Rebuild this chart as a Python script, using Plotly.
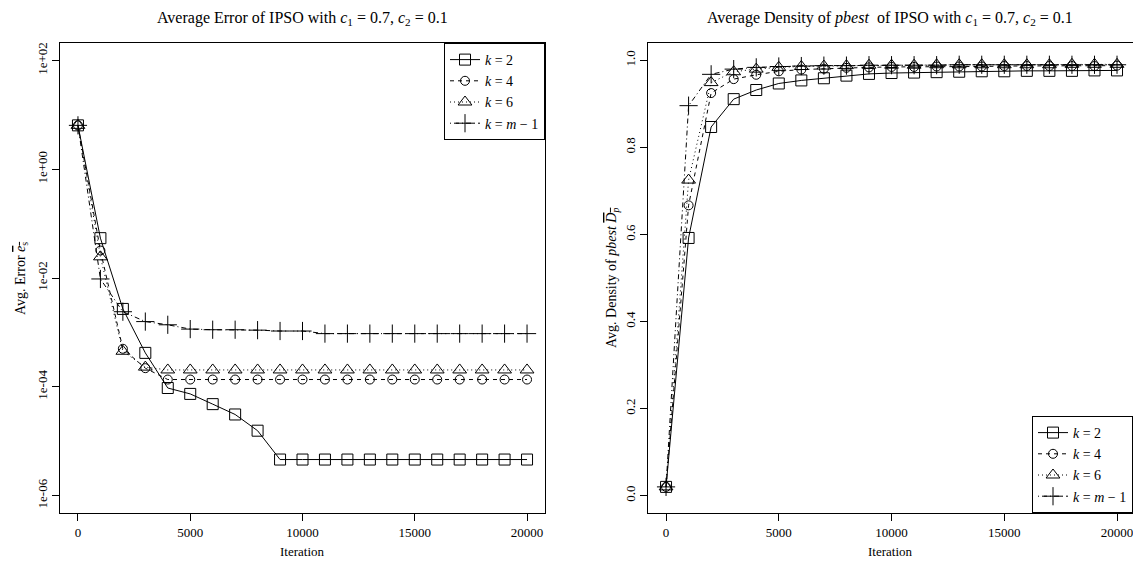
import plotly.graph_objects as go

iterations = [0, 1000, 2000, 3000, 4000, 5000, 6000, 7000, 8000, 9000, 10000,
              11000, 12000, 13000, 14000, 15000, 16000, 17000, 18000, 19000, 20000]
x_ticks = [0, 5000, 10000, 15000, 20000]
x_ticktext = ["0", "5000", "10000", "15000", "20000"]

# Average error (log scale)
err_k2 = [6.4, 0.054, 0.0027, 4.2e-4, 9.5e-5, 7.4e-5, 4.8e-5, 3.1e-5, 1.56e-5, 4.6e-6, 4.6e-6,
          4.6e-6, 4.6e-6, 4.6e-6, 4.6e-6, 4.6e-6, 4.6e-6, 4.6e-6, 4.6e-6, 4.6e-6, 4.6e-6]
err_k4 = [6.4, 0.032, 5.0e-4, 2.2e-4, 1.36e-4, 1.36e-4, 1.36e-4, 1.36e-4, 1.36e-4, 1.36e-4, 1.36e-4,
          1.36e-4, 1.36e-4, 1.36e-4, 1.36e-4, 1.36e-4, 1.36e-4, 1.36e-4, 1.36e-4, 1.36e-4, 1.36e-4]
err_k6 = [6.4, 0.0245, 4.5e-4, 2.3e-4, 2.04e-4, 2.04e-4, 2.04e-4, 2.04e-4, 2.04e-4, 2.04e-4, 2.04e-4,
          2.04e-4, 2.04e-4, 2.04e-4, 2.04e-4, 2.04e-4, 2.04e-4, 2.04e-4, 2.04e-4, 2.04e-4, 2.04e-4]
err_km1 = [6.4, 0.0096, 0.0024, 0.00158, 0.00138, 0.00115, 0.00112, 0.00112, 0.0011, 0.00106, 0.00106,
           0.00095, 0.00095, 0.00095, 0.00095, 0.00095, 0.00095, 0.00095, 0.00095, 0.00095, 0.00095]
err_tickvals = [1e-6, 1e-4, 1e-2, 1, 100]
err_ticktext = ["1e-06", "1e-04", "1e-02", "1e+00", "1e+02"]

# Average density of pbest
den_k2 = [0.02, 0.592, 0.847, 0.911, 0.932, 0.947, 0.954, 0.959, 0.965, 0.969, 0.971,
          0.972, 0.973, 0.974, 0.975, 0.975, 0.976, 0.976, 0.976, 0.977, 0.977]
den_k4 = [0.02, 0.667, 0.925, 0.957, 0.967, 0.975, 0.979, 0.981, 0.983, 0.984, 0.985,
          0.985, 0.986, 0.986, 0.986, 0.987, 0.987, 0.987, 0.987, 0.987, 0.988]
den_k6 = [0.02, 0.725, 0.949, 0.974, 0.980, 0.984, 0.986, 0.987, 0.988, 0.989, 0.989,
          0.989, 0.990, 0.990, 0.990, 0.990, 0.990, 0.990, 0.991, 0.991, 0.991]
den_km1 = [0.02, 0.896, 0.968, 0.980, 0.984, 0.986, 0.987, 0.988, 0.988, 0.989, 0.989,
           0.989, 0.989, 0.990, 0.990, 0.990, 0.990, 0.990, 0.990, 0.990, 0.990]
den_tickvals = [0.0, 0.2, 0.4, 0.6, 0.8, 1.0]
den_ticktext = ["0.0", "0.2", "0.4", "0.6", "0.8", "1.0"]

series_names = ["<i>k</i> = 2", "<i>k</i> = 4", "<i>k</i> = 6", "<i>k</i> = <i>m</i> \u2212 1"]
symbols = ["square-open", "circle-open", "triangle-up-open", "cross-thin-open"]
sizes = [11, 9, 12, 13]
dashes = ["solid", "4px,4px", "1px,3px", "1px,3px,5px,3px"]

FONT = "Liberation Serif"
W, H = 1133, 563

fig = go.Figure()
for i, ys in enumerate([err_k2, err_k4, err_k6, err_km1]):
    fig.add_trace(go.Scatter(
        x=iterations, y=ys, mode="lines+markers", name=series_names[i],
        line=dict(color="black", width=1, dash=dashes[i]),
        marker=dict(symbol=symbols[i], size=sizes[i], color="black",
                    line=dict(color="black", width=1)),
        xaxis="x", yaxis="y", legend="legend"))
for i, ys in enumerate([den_k2, den_k4, den_k6, den_km1]):
    fig.add_trace(go.Scatter(
        x=iterations, y=ys, mode="lines+markers", name=series_names[i],
        line=dict(color="black", width=1, dash=dashes[i]),
        marker=dict(symbol=symbols[i], size=sizes[i], color="black",
                    line=dict(color="black", width=1)),
        xaxis="x2", yaxis="y2", legend="legend2"))

def px(v):
    return v / W

def py(v):
    return 1 - v / H

ydom = [py(513), py(43)]
axis_common = dict(showgrid=False, zeroline=False, showline=True, linecolor="black",
                   linewidth=1, ticks="outside", ticklen=7, tickcolor="black",
                   ticklabeloverflow="allow",
                   tickfont=dict(family=FONT, size=13, color="black"))

fig.update_layout(
    width=W, height=H, margin=dict(l=0, r=0, t=0, b=0),
    paper_bgcolor="white", plot_bgcolor="white",
    font=dict(family=FONT, color="black"),
    xaxis=dict(domain=[px(60), px(545)], range=[-800, 20800], tickvals=x_ticks,
               ticktext=x_ticktext, mirror=True, anchor="y", **axis_common),
    yaxis=dict(domain=ydom, type="log", range=[-6.32, 2.32], tickvals=err_tickvals,
               ticktext=err_ticktext, tickangle=-90, mirror=True, anchor="x", **axis_common),
    xaxis2=dict(domain=[px(648), 1.0], range=[-800, 20708], tickvals=x_ticks,
                ticktext=x_ticktext, mirror=True, anchor="y2", **axis_common),
    yaxis2=dict(domain=ydom, range=[-0.04, 1.04], tickvals=den_tickvals,
                ticktext=den_ticktext, tickangle=-90, anchor="x2", **axis_common),
    legend=dict(x=px(545), xanchor="right", y=py(43), yanchor="top",
                bgcolor="white", bordercolor="black", borderwidth=1,
                font=dict(family=FONT, size=14, color="black"), tracegroupgap=0,
                itemwidth=30),
    legend2=dict(x=1.0, xanchor="right", y=py(513), yanchor="bottom",
                 bgcolor="white", bordercolor="black", borderwidth=1,
                 font=dict(family=FONT, size=14, color="black"), tracegroupgap=0,
                 itemwidth=30),
    showlegend=True,
)

ann = [
    dict(text="Average Error of IPSO with <i>c</i><sub>1</sub> = 0.7, <i>c</i><sub>2</sub> = 0.1",
         x=px(302), y=py(18), size=16, angle=0),
    dict(text="Average Density of <i>pbest</i>  of IPSO with <i>c</i><sub>1</sub> = 0.7, <i>c</i><sub>2</sub> = 0.1",
         x=px(890), y=py(18), size=16, angle=0),
    dict(text="Iteration", x=px(302), y=py(551), size=13, angle=0),
    dict(text="Iteration", x=px(890), y=py(551), size=13, angle=0),
    dict(text="Avg. Error <span style='text-decoration:overline'><i>e</i><sub>s</sub></span>",
         x=px(21), y=py(278), size=14, angle=-90),
    dict(text="Avg. Density of <i>pbest</i> <span style='text-decoration:overline'><i>D</i><sub><i>p</i></sub></span>",
         x=px(612), y=py(278), size=14, angle=-90),
]
for a in ann:
    fig.add_annotation(text=a["text"], x=a["x"], y=a["y"], xref="paper", yref="paper",
                       xanchor="center", yanchor="middle", showarrow=False,
                       textangle=a["angle"], font=dict(family=FONT, size=a["size"], color="black"))

fig.write_html("out.html")
